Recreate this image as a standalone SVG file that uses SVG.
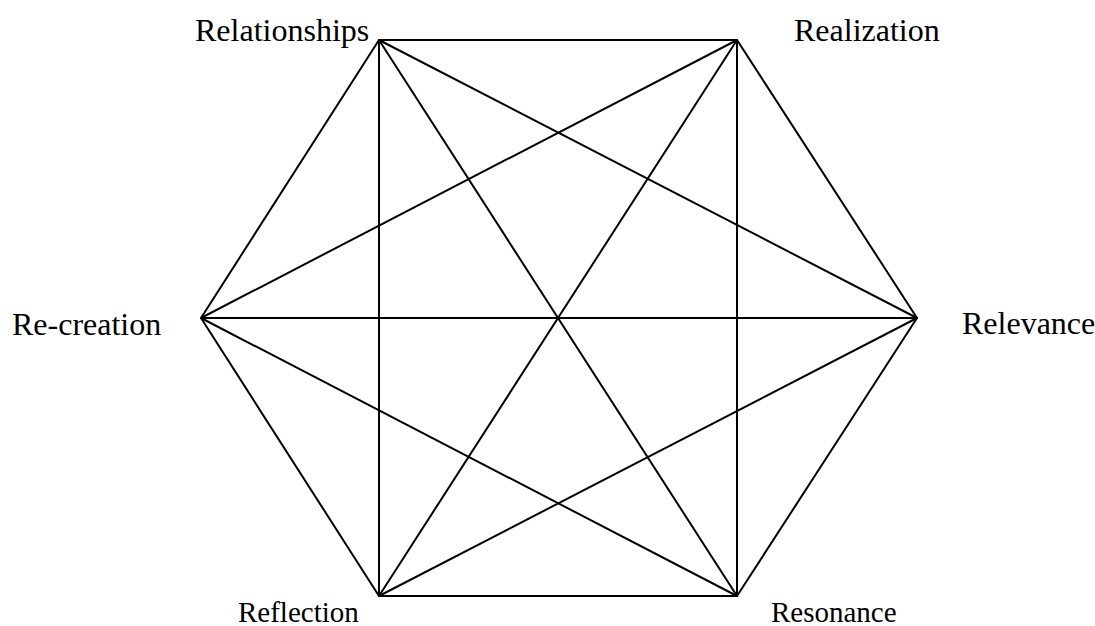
<svg xmlns="http://www.w3.org/2000/svg" width="1095" height="626" viewBox="0 0 1095 626">
<style>
.e{stroke:#000;stroke-width:2;fill:none;stroke-linecap:round}
.t{font-family:"Liberation Serif","Times New Roman",serif;font-size:32px;fill:#000}
.b{font-size:29px}
</style>
<rect width="1095" height="626" fill="#fff"/>
<g id="connectors">
<line class="e" x1="379" y1="40" x2="737" y2="40"/>
<line class="e" x1="379" y1="40" x2="917" y2="318"/>
<line class="e" x1="379" y1="40" x2="737" y2="596"/>
<line class="e" x1="379" y1="40" x2="379" y2="596"/>
<line class="e" x1="379" y1="40" x2="201" y2="318"/>
<line class="e" x1="737" y1="40" x2="917" y2="318"/>
<line class="e" x1="737" y1="40" x2="737" y2="596"/>
<line class="e" x1="737" y1="40" x2="379" y2="596"/>
<line class="e" x1="737" y1="40" x2="201" y2="318"/>
<line class="e" x1="917" y1="318" x2="737" y2="596"/>
<line class="e" x1="917" y1="318" x2="379" y2="596"/>
<line class="e" x1="917" y1="318" x2="201" y2="318"/>
<line class="e" x1="737" y1="596" x2="379" y2="596"/>
<line class="e" x1="737" y1="596" x2="201" y2="318"/>
<line class="e" x1="379" y1="596" x2="201" y2="318"/>
</g>
<g id="relationships"><text class="t" x="195" y="41">Relationships</text></g>
<g id="realization"><text class="t" x="794" y="41">Realization</text></g>
<g id="relevance"><text class="t" x="962" y="334">Relevance</text></g>
<g id="resonance"><text class="t b" x="771" y="622">Resonance</text></g>
<g id="reflection"><text class="t b" x="238" y="622">Reflection</text></g>
<g id="re-creation"><text class="t" x="12" y="335">Re-creation</text></g>
</svg>
